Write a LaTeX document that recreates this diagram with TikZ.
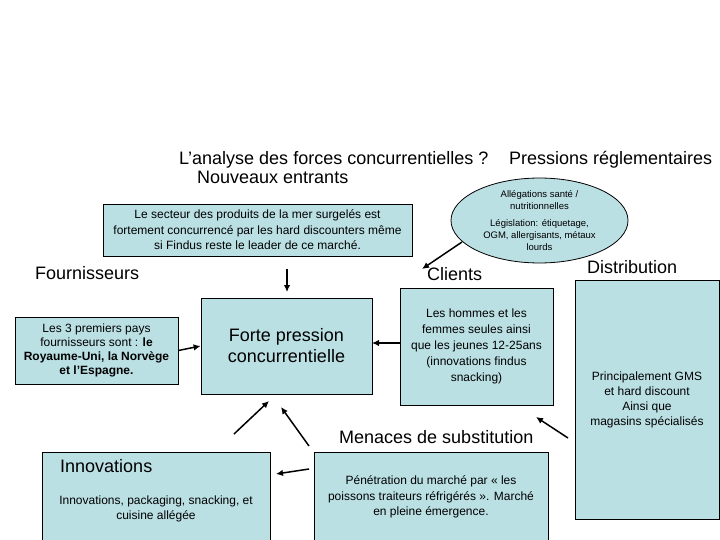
\documentclass[tikz,border=0pt]{standalone}
\usepackage{fontspec}
\setmainfont{Liberation Sans}
\usetikzlibrary{arrows.meta,shapes.geometric}
\definecolor{boxfill}{RGB}{187,224,228}
\begin{document}
\begin{tikzpicture}[x=1pt,y=-1pt,
  box/.style={draw=black, line width=0.8pt, fill=boxfill, inner sep=0pt, align=center},
  big/.style={font=\fontsize{18}{21}\selectfont, inner sep=0pt, anchor=west},
  small/.style={font=\fontsize{12}{15.5}\selectfont},
  arr/.style={line width=1.5pt, -{Latex[length=7pt,width=6.5pt]}}]
\useasboundingbox (0,0) rectangle (720,540);
\clip (0,0) rectangle (720,540);

% titles and labels
\node[big] (title) at (179,160) {L’analyse des forces concurrentielles ?};
\node[big] (nouv) at (197,177) {Nouveaux entrants};
\node[big] (press) at (509,160) {Pressions réglementaires};
\node[big] (fourlab) at (35,273) {Fournisseurs};
\node[big] (clilab) at (427,274) {Clients};
\node[big] (distlab) at (587,267) {Distribution};
\node[big] (menlab) at (339,437) {Menaces de substitution};

% boxes
\node[box, small, minimum width=309pt, minimum height=52pt] (secteur) at (257.5,230)
  {Le secteur des produits de la mer surgelés est\\
   fortement concurrencé par les hard discounters même\\
   si Findus reste le leader de ce marché.};
\node[box, ellipse, font=\fontsize{9.5}{12}\selectfont, minimum width=177pt, minimum height=75pt] (regl) at (539.5,220.5)
  {Allégations santé /\\ nutritionnelles\\[5pt]
   Législation: étiquetage,\\ OGM, allergisants, métaux\\ lourds};
\node[box, font=\fontsize{12}{14}\selectfont, minimum width=163pt, minimum height=67pt] (fourn) at (96.5,350.5)
  {Les 3 premiers pays\\ fournisseurs sont : \textbf{le}\\
   \textbf{Royaume-Uni, la Norvège}\\ \textbf{et l'Espagne.}};
\node[box, font=\fontsize{18}{21}\selectfont, minimum width=171pt, minimum height=96pt] (forte) at (286.5,346)
  {Forte pression\\ concurrentielle};
\node[box, font=\fontsize{12}{16}\selectfont, minimum width=153pt, minimum height=117pt] (clients) at (476.5,346.5)
  {Les hommes et les\\ femmes seules ainsi\\ que les jeunes 12-25ans\\ (innovations findus\\ snacking)};
\node[box, font=\fontsize{12}{15}\selectfont, minimum width=144pt, minimum height=239pt] (distrib) at (647,399.5)
  {Principalement GMS\\ et hard discount\\ Ainsi que\\ magasins spécialisés};
\node[box, small, minimum width=234pt, minimum height=90pt] (menaces) at (431,497)
  {Pénétration du marché par « les\\ poissons traiteurs réfrigérés ». Marché\\ en pleine émergence.};
\node[box, minimum width=228pt, minimum height=92pt] (innov) at (156,498) {};
\node[big] (innovlab) at (60,466) {Innovations};
\node[small, inner sep=0pt, align=center] (innovtxt) at (156,509)
  {Innovations, packaging, snacking, et\\ cuisine allégée};

% connector end points
\coordinate (a1s) at (287,269);
\coordinate (a1e) at (287,292);
\coordinate (a2s) at (462,242);
\coordinate (a2e) at (422,269);
\coordinate (a4s) at (400,343);
\coordinate (a4e) at (372,343);
\coordinate (a5s) at (234,434);
\coordinate (a5e) at (269,401);
\coordinate (a6s) at (309,446);
\coordinate (a6e) at (281,407);
\coordinate (a7s) at (309,469);
\coordinate (a7e) at (276,474);
\coordinate (a8s) at (568,438);
\coordinate (a8e) at (536,417);

% connectors
\draw[arr] (a1s) -- (a1e);
\draw[arr] (a2s) -- (a2e);
\draw[arr] (fourn.east) -- (forte.west);
\draw[arr] (a4s) -- (a4e);
\draw[arr] (a5s) -- (a5e);
\draw[arr] (a6s) -- (a6e);
\draw[arr] (a7s) -- (a7e);
\draw[arr] (a8s) -- (a8e);
\end{tikzpicture}
\end{document}
